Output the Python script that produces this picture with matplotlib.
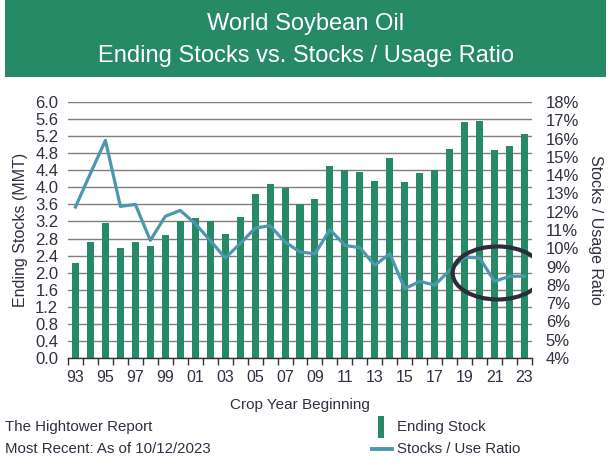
import numpy as np
import matplotlib.pyplot as plt
from matplotlib.patches import Ellipse, Rectangle
from matplotlib.lines import Line2D

plt.rcParams['font.family'] = ['Liberation Sans', 'DejaVu Sans']

YEARS = list(range(1993, 2024))
ENDING_STOCKS = [2.22, 2.71, 3.16, 2.57, 2.73, 2.62, 2.88, 3.20, 3.27, 3.20,
                 2.90, 3.30, 3.84, 4.07, 3.98, 3.60, 3.72, 4.49, 4.41, 4.35,
                 4.16, 4.68, 4.12, 4.33, 4.41, 4.89, 5.52, 5.55, 4.87, 4.96,
                 5.24]
STOCKS_USE_RATIO = [12.26, 14.1, 15.9, 12.29, 12.4, 10.43, 11.75, 12.07, 11.35, 10.43,
                    9.47, 10.25, 11.1, 11.24, 10.34, 9.8, 9.7, 11.02, 10.16, 10.03,
                    9.07, 9.7, 7.79, 8.19, 7.99, 8.79, 9.52, 9.47, 8.19, 8.47,
                    8.47]
TICK_YEARS = list(range(1993, 2024, 2))
TICK_LABELS = ["%02d" % (y % 100) for y in TICK_YEARS]

GREEN = "#278a67"
BLUE = "#4b98ae"
TEXT = "#2f3040"
W, H = 611, 463

fig = plt.figure(figsize=(W / 100, H / 100), dpi=100)

# title banner
fig.patches.append(Rectangle((5 / W, 1 - 77 / H), 601 / W, 77 / H,
                             transform=fig.transFigure, facecolor=GREEN,
                             edgecolor="none", zorder=0))
fig.text(0.5, 1 - 24 / H, "World Soybean Oil", color="white", fontsize=17,
         ha="center", va="center")
fig.text(0.5, 1 - 56 / H, "Ending Stocks vs. Stocks / Usage Ratio", color="white",
         fontsize=17, ha="center", va="center")

ax = fig.add_axes([68 / W, 105 / H, 464 / W, 256 / H])
ax.bar(YEARS, ENDING_STOCKS, width=0.47, color=GREEN, zorder=2)
ax.set_ylim(0, 6.0)
ax.set_yticks(np.arange(0, 6.01, 0.4))
ax.set_yticklabels(["%.1f" % v for v in np.arange(0, 6.01, 0.4)])
ax.set_xlim(1992.5, 2023.5)
ax.set_xticks(TICK_YEARS)
ax.set_xticklabels(TICK_LABELS)
ax.set_xticks(np.arange(1992.5, 2024, 1.0), minor=True)
ax.tick_params(axis="x", which="major", length=0, pad=9, labelsize=11.5, colors=TEXT)
ax.tick_params(axis="x", which="minor", length=5, width=1, color=TEXT)
ax.tick_params(axis="y", length=0, pad=7, labelsize=12, colors=TEXT)
ax.grid(axis="y", color="#7f7f7f", linewidth=1, zorder=0)
ax.set_axisbelow(True)
for side in ["left", "right", "top"]:
    ax.spines[side].set_visible(False)
ax.spines["bottom"].set_color(TEXT)
ax.spines["bottom"].set_linewidth(1)
ax.set_ylabel("Ending Stocks (MMT)", fontsize=11.5, color=TEXT, labelpad=5)
ax.set_xlabel("Crop Year Beginning", fontsize=11, color=TEXT, labelpad=9)

ax2 = ax.twinx()
ax2.plot(YEARS, STOCKS_USE_RATIO, color=BLUE, linewidth=2.3, zorder=3)
ax2.set_ylim(4, 18)
ax2.set_yticks(range(4, 19))
ax2.set_yticklabels(["%d%%" % v for v in range(4, 19)])
ax2.tick_params(axis="y", length=0, pad=10, labelsize=12, colors=TEXT)
for side in ["left", "right", "top", "bottom"]:
    ax2.spines[side].set_visible(False)
ax2.set_ylabel("Stocks / Usage Ratio", fontsize=11.5, color=TEXT, rotation=-90,
               labelpad=17)
ax2.add_patch(Ellipse((2021.2, 8.65), 6.0, 2.9, fill=False, edgecolor="#2b2d3a",
                      linewidth=3, zorder=4))

# footer
fig.text(5 / W, 1 - 427 / H, "The Hightower Report", fontsize=10.8, color=TEXT,
         va="center")
fig.text(5 / W, 1 - 449 / H, "Most Recent: As of 10/12/2023", fontsize=10.8,
         color=TEXT, va="center")

# legend
fig.patches.append(Rectangle((378 / W, 1 - 438 / H), 6 / W, 22 / H,
                             transform=fig.transFigure, facecolor=GREEN,
                             edgecolor="none"))
fig.lines.append(Line2D([372 / W, 392 / W], [1 - 449 / H, 1 - 449 / H],
                        transform=fig.transFigure, color=BLUE, linewidth=2.8))
fig.text(397 / W, 1 - 427 / H, "Ending Stock", fontsize=10.8, color=TEXT, va="center")
fig.text(397 / W, 1 - 449 / H, "Stocks / Use Ratio", fontsize=10.8, color=TEXT,
         va="center")

fig.savefig("out.png", dpi=100)
